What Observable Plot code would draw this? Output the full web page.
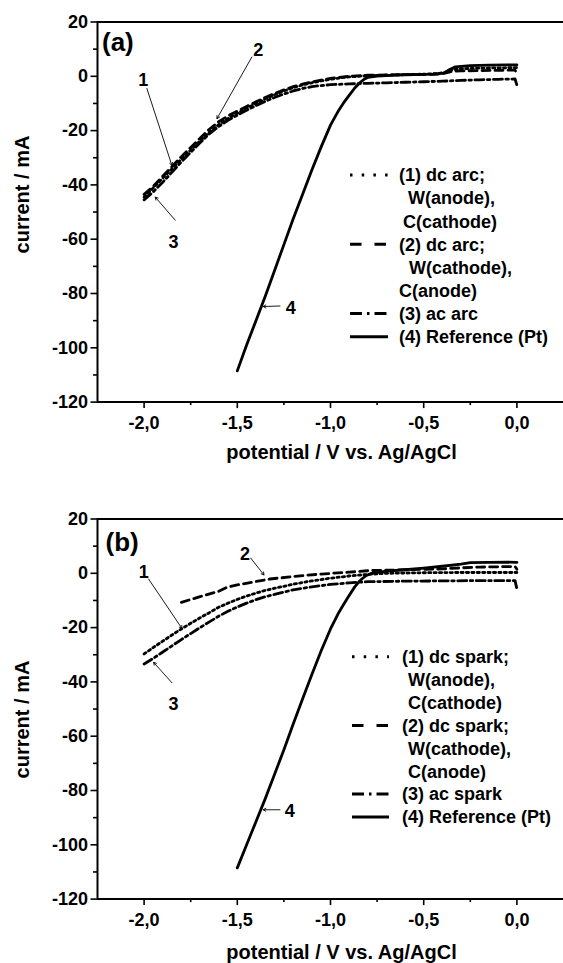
<!DOCTYPE html>
<html><head><meta charset="utf-8">
<script src="https://cdn.jsdelivr.net/npm/d3@7"></script>
<script src="https://cdn.jsdelivr.net/npm/@observablehq/plot@0.6"></script>
<style>
body{margin:0;background:#fff;}
#chart svg{display:block;}
</style></head><body><div id="chart"></div>
<script>
const FONT = "'Liberation Sans', Arial, Helvetica, sans-serif";
const xTicks = [-2.0, -1.5, -1.0, -0.5, 0.0];
const xMinorTicks = [-1.75, -1.25, -0.75, -0.25];
const yTicks = [-120, -100, -80, -60, -40, -20, 0, 20];
const yMinorTicks = [-110, -90, -70, -50, -30, -10, 10];
const xLabel = "potential / V vs. Ag/AgCl";
const yLabel = "current / mA";

// ---- panel (a): arc ----
const arcDcWAnode = [[-2.00,-44.5],[-1.97,-42.5],[-1.94,-40.3],[-1.90,-37.5],[-1.85,-34],[-1.80,-30.5],[-1.75,-27.2],[-1.70,-23.8],[-1.65,-20.6],[-1.60,-17.8],[-1.55,-15.5],[-1.50,-13.6],[-1.45,-11.8],[-1.40,-10],[-1.35,-8.3],[-1.30,-6.8],[-1.25,-5.4],[-1.20,-4.2],[-1.15,-3.2],[-1.10,-2.4],[-1.05,-1.7],[-1.00,-1.1],[-0.95,-0.6],[-0.90,-0.2],[-0.80,0.2],[-0.70,0.4],[-0.60,0.6],[-0.50,0.8],[-0.42,1.0],[-0.38,1.6],[-0.35,2.4],[-0.30,2.8],[-0.20,3.0],[-0.10,3.1],[0.00,3.2]];
const arcDcWCathode = [[-2.00,-43.5],[-1.95,-40.5],[-1.90,-36.8],[-1.85,-33.2],[-1.80,-29.6],[-1.75,-26.2],[-1.70,-22.8],[-1.65,-19.5],[-1.60,-16.7],[-1.55,-14.6],[-1.50,-12.8],[-1.45,-11.1],[-1.40,-9.4],[-1.35,-7.8],[-1.30,-6.3],[-1.25,-5.0],[-1.20,-3.8],[-1.15,-2.9],[-1.10,-2.1],[-1.05,-1.4],[-1.00,-0.8],[-0.90,0],[-0.80,0.4],[-0.70,0.5],[-0.60,0.6],[-0.50,0.7],[-0.42,0.8],[-0.38,1.3],[-0.35,1.8],[-0.30,2.0],[-0.20,2.1],[-0.10,2.2],[-0.01,2.3],[0.00,1.0]];
const arcAc = [[-2.00,-45.5],[-1.95,-42.5],[-1.90,-39],[-1.85,-35.3],[-1.80,-31.5],[-1.75,-28],[-1.70,-24.5],[-1.65,-21.2],[-1.60,-18.5],[-1.55,-16.2],[-1.50,-14.3],[-1.45,-12.5],[-1.40,-10.8],[-1.35,-9.2],[-1.30,-7.8],[-1.25,-6.5],[-1.20,-5.4],[-1.15,-4.5],[-1.10,-3.8],[-1.05,-3.4],[-1.00,-3.1],[-0.90,-2.8],[-0.80,-2.6],[-0.70,-2.4],[-0.60,-2.2],[-0.50,-2.0],[-0.40,-1.8],[-0.30,-1.5],[-0.20,-1.3],[-0.10,-1.1],[-0.01,-1.0],[0.00,-3.3]];
const arcRefPt = [[-1.50,-108.5],[-1.45,-99],[-1.40,-90],[-1.35,-81],[-1.30,-71.5],[-1.25,-62],[-1.20,-52.5],[-1.15,-43.5],[-1.10,-34.5],[-1.05,-26],[-1.00,-18],[-0.96,-13],[-0.93,-9.8],[-0.90,-7],[-0.87,-4.3],[-0.84,-2.2],[-0.82,-1.1],[-0.80,-0.4],[-0.75,0.1],[-0.65,0.4],[-0.55,0.6],[-0.45,0.8],[-0.39,1.2],[-0.36,2.5],[-0.33,3.5],[-0.25,3.9],[-0.15,4.1],[-0.05,4.2],[0.00,4.2]];

// ---- panel (b): spark ----
const sparkDcWAnode = [[-2.00,-29.7],[-1.95,-27.3],[-1.90,-25],[-1.85,-22.7],[-1.80,-20.5],[-1.75,-18.4],[-1.70,-16.4],[-1.65,-14.5],[-1.60,-12.5],[-1.55,-11],[-1.50,-9.6],[-1.45,-8.4],[-1.40,-7.3],[-1.35,-6.3],[-1.30,-5.5],[-1.25,-4.8],[-1.20,-4.0],[-1.10,-2.8],[-1.00,-1.8],[-0.90,-1.0],[-0.80,-0.4],[-0.70,0],[-0.50,0.2],[-0.30,0.3],[-0.10,0.3],[0.00,0.3]];
const sparkDcWCathode = [[-1.80,-10.7],[-1.70,-8.6],[-1.60,-6.6],[-1.557,-5.2],[-1.50,-4.3],[-1.40,-3],[-1.325,-2.1],[-1.20,-1.2],[-1.057,-0.3],[-0.90,0.4],[-0.79,1.0],[-0.60,1.3],[-0.40,1.6],[-0.30,2.0],[-0.20,2.3],[-0.01,2.5],[0.00,1.5]];
const sparkAc = [[-2.00,-33.4],[-1.95,-31.3],[-1.90,-29],[-1.85,-26.7],[-1.80,-24.4],[-1.75,-22.2],[-1.70,-20],[-1.65,-17.9],[-1.60,-15.8],[-1.55,-14],[-1.50,-12.4],[-1.45,-11],[-1.40,-9.7],[-1.35,-8.6],[-1.30,-7.8],[-1.25,-6.9],[-1.20,-6.1],[-1.10,-5],[-1.00,-4.1],[-0.90,-3.5],[-0.80,-3.1],[-0.60,-2.9],[-0.40,-2.8],[-0.20,-2.7],[-0.01,-2.7],[0.00,-5.8]];
const sparkRefPt = [[-1.50,-108.5],[-1.45,-100],[-1.40,-91.5],[-1.35,-83],[-1.30,-74],[-1.25,-65],[-1.20,-55.5],[-1.15,-46.3],[-1.10,-37.3],[-1.05,-28.5],[-1.00,-20.5],[-0.96,-15],[-0.93,-11.5],[-0.90,-8.2],[-0.87,-5],[-0.85,-3.3],[-0.83,-2],[-0.81,-0.9],[-0.78,0],[-0.70,0.8],[-0.60,1.3],[-0.50,1.9],[-0.40,2.6],[-0.30,3.4],[-0.25,3.9],[-0.15,4.0],[-0.05,4.1],[0.00,4.0]];

// annotation labels: [text, labelV, labelI, arrowFromV, arrowFromI, arrowToV, arrowToI]
const arcNotes = [["1",-2.004,-1.5,-1.985,-4.5,-1.851,-32.8],["2",-1.387,9.6,-1.422,7.1,-1.609,-15.6],["3",-1.842,-61.1,-1.833,-53,-1.940,-44.5],["4",-1.213,-85.6,-1.271,-84.6,-1.361,-84.8]];
const sparkNotes = [["1",-2.002,0.3,-1.976,-2.1,-1.797,-20.3],["2",-1.459,7.1,-1.428,5.6,-1.357,-0.6],["3",-1.842,-48.2,-1.851,-40.3,-1.949,-32.8],["4",-1.218,-87.6,-1.271,-87.1,-1.361,-87.1]];

const arcLegend = [["(1) dc arc;","W(anode),","C(cathode)"],["(2) dc arc;","W(cathode),","C(anode)"],["(3) ac arc"],["(4) Reference (Pt)"]];
const sparkLegend = [["(1) dc spark;","W(anode),","C(cathode)"],["(2) dc spark;","W(cathode),","C(anode)"],["(3) ac spark"],["(4) Reference (Pt)"]];

const dashData = ["2.2,3.2", "8,5", "9,3.5,2.5,3.5", null];
const dashLegend = ["2.5,9.2", "11.5,13", "12,5,2.5,5", null];

function fmtX(d) { return d.toFixed(1).replace(".", ","); }
function fmtY(d) { return String(d); }

function makePanel(p) {
  const rows = p.series.flatMap((pts, k) => pts.map(([v, i]) => ({k, v, i})));
  const notes = p.notes.map(([t, lv, li, v1, i1, v2, i2]) => ({t, lv, li, v1, i1, v2, i2}));
  const top = 21.5;
  const svg = Plot.plot({
    width: 563, height: p.height,
    marginLeft: 97, marginRight: 0, marginTop: top, marginBottom: p.height - 401.6,
    x: {domain: [-2.25, 0.25]},
    y: {domain: [-120, 20]},
    style: {fontFamily: FONT, fontWeight: "bold", fontSize: "18px", color: "#000", background: "#fff", overflow: "visible"},
    marks: [
      Plot.axisX({ticks: xTicks, tickSize: 6.5, tickPadding: 8, tickFormat: fmtX, fontSize: 18, fontWeight: "bold", strokeWidth: 1.6, label: null}),
      Plot.axisX({ticks: xMinorTicks, tickSize: 3.5, tickFormat: () => "", strokeWidth: 1.6, label: null}),
      Plot.axisY({ticks: yTicks, tickSize: 6.5, tickPadding: 3, tickFormat: fmtY, fontSize: 18, fontWeight: "bold", strokeWidth: 1.6, label: null}),
      Plot.axisY({ticks: yMinorTicks, tickSize: 4, tickFormat: () => "", strokeWidth: 1.6, label: null}),
      Plot.ruleY([-120, 20], {stroke: "#000", strokeWidth: 2}),
      Plot.ruleX([-2.25], {stroke: "#000", strokeWidth: 2}),
      ...p.series.map((_, k) => Plot.line(rows, {filter: d => d.k === k, x: "v", y: "i", stroke: "#000", strokeWidth: 2.8, strokeDasharray: dashData[k], strokeLinejoin: "round"})),
      Plot.arrow(notes, {x1: "v1", y1: "i1", x2: "v2", y2: "i2", stroke: "#000", strokeWidth: 0.9, headLength: 5, bend: false}),
      Plot.text(notes, {x: "lv", y: "li", text: "t", fontSize: 18, fontWeight: "bold", fill: "#000"}),
      Plot.text([p.letter], {frameAnchor: "top-left", dx: p.letterDx, dy: p.letterDy, textAnchor: "start", lineAnchor: "middle", fontSize: 26, fontWeight: "bold", fill: "#000"}),
      Plot.text([xLabel], {frameAnchor: "top-left", dx: 341 - 97, dy: p.xLabelY - top, textAnchor: "middle", lineAnchor: "middle", fontSize: 20, fontWeight: "bold", fill: "#000"}),
      Plot.text([yLabel], {frameAnchor: "top-left", dx: 22 - 97, dy: p.yLabelY - top, rotate: -90, textAnchor: "middle", lineAnchor: "middle", fontSize: 20, fontWeight: "bold", fill: "#000"})
    ]
  });
  // legend
  const s = d3.select(svg);
  const g = s.append("g").attr("font-family", FONT).attr("font-weight", "bold").attr("font-size", 18)
    .attr("fill", "#000").attr("text-anchor", "start");
  let row = 0;
  p.legend.forEach((lines, k) => {
    const cy = p.legendY + row * p.legendStep;
    g.append("line").attr("x1", p.lineX1).attr("x2", p.lineX2).attr("y1", cy).attr("y2", cy)
      .attr("stroke", "#000").attr("stroke-width", 3).attr("stroke-dasharray", dashLegend[k]);
    lines.forEach((t, j) => {
      g.append("text").attr("x", p.textX[row + j]).attr("y", p.legendY + (row + j) * p.legendStep)
        .attr("dy", "0.35em").attr("text-anchor", "start").text(t);
    });
    row += lines.length;
  });
  return svg;
}

const root = document.getElementById("chart");
root.appendChild(makePanel({
  height: 497, series: [arcDcWAnode, arcDcWCathode, arcAc, arcRefPt], notes: arcNotes,
  letter: "(a)", letterDx: 4.5, letterDy: 21,
  xLabelY: 452, yLabelY: 194,
  legend: arcLegend, legendY: 175, legendStep: 23.1, lineX1: 350, lineX2: 388,
  textX: [399, 408, 403, 399, 409, 399, 399, 399]
}));
root.appendChild(makePanel({
  height: 466, series: [sparkDcWAnode, sparkDcWCathode, sparkAc, sparkRefPt], notes: sparkNotes,
  letter: "(b)", letterDx: 8, letterDy: 24,
  xLabelY: 454.7, yLabelY: 222,
  legend: sparkLegend, legendY: 159.7, legendStep: 22.9, lineX1: 352, lineX2: 389,
  textX: [402, 408, 408, 402, 408, 408, 402, 402]
}));
</script></body></html>
